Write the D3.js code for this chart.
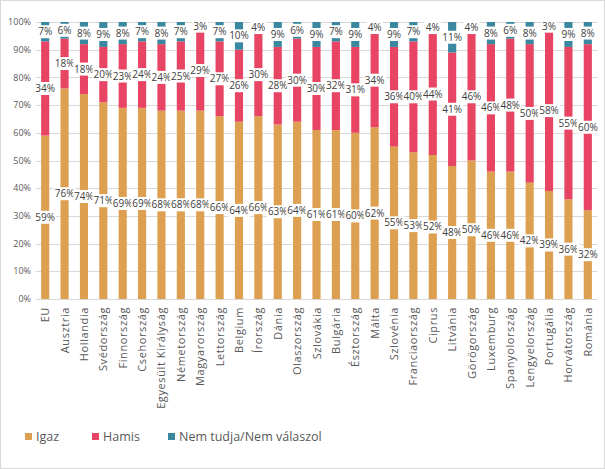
<!DOCTYPE html>
<html><head><meta charset="utf-8">
<script src="https://cdn.jsdelivr.net/npm/d3@7"></script>
<style>body{margin:0;background:#fff}svg{display:block}text{font-family:"Open Sans","Noto Sans",sans-serif}</style>
</head><body><svg id="c" width="605" height="469"></svg>
<script>
const categories=["EU","Ausztria","Hollandia","Svédország","Finnország","Csehország","Egyesült Királyság","Németország","Magyarország","Lettország","Belgium","Írország","Dánia","Olaszország","Szlovákia","Bulgária","Észtország","Málta","Szlovénia","Franciaország","Ciprus","Litvánia","Görögország","Luxemburg","Spanyolország","Lengyelország","Portugália","Horvátország","Románia"];
const igaz=[59,76,74,71,69,69,68,68,68,66,64,66,63,64,61,61,60,62,55,53,52,48,50,46,46,42,39,36,32];
const hamis=[34,18,18,20,23,24,24,25,29,27,26,30,28,30,30,32,31,34,36,40,44,41,46,46,48,50,58,55,60];
const nemTudja=[7,6,8,9,8,7,8,7,3,7,10,4,9,6,9,7,9,4,9,7,4,11,4,8,6,8,3,9,8];
const seriesNames=["Igaz","Hamis","Nem tudja/Nem válaszol"];
const colors=["#DDA050","#E84463","#3A88A0"];
const yTicks=[0,10,20,30,40,50,60,70,80,90,100];

const svg=d3.select("#c");
svg.append("rect").attr("x",0.5).attr("y",0.5).attr("width",604).attr("height",468).attr("fill","#fff").attr("stroke","#d9d9d9");
const x=d3.scaleBand().domain(categories).range([35.5,597.5]).paddingInner(0.58).paddingOuter(0.29);
const y=d3.scaleLinear().domain([0,100]).range([299,22]);

const g=svg.append("g");
g.selectAll("line.grid").data(yTicks).join("line").attr("x1",35.5).attr("x2",597.5)
 .attr("y1",d=>Math.round(y(d))+0.5).attr("y2",d=>Math.round(y(d))+0.5)
 .attr("stroke","#d9d9d9").attr("stroke-width",1);
g.selectAll("text.yt").data(yTicks).join("text").attr("x",31).attr("y",d=>y(d)).attr("dy","0.35em")
 .attr("text-anchor","end").attr("font-size",9).attr("fill","#595959").text(d=>d+"%");

const rows=categories.map((c,i)=>({c,v:[igaz[i],hamis[i],nemTudja[i]]}));
const stack=d3.stack().keys([0,1,2]).value((d,k)=>d.v[k]);
const st=stack(rows);
st.forEach((s,k)=>{
  g.selectAll(null).data(s).join("rect").attr("x",d=>x(d.data.c)).attr("width",x.bandwidth())
   .attr("y",d=>y(d[1])).attr("height",d=>y(d[0])-y(d[1])).attr("fill",colors[k]);
});
// labels
st.forEach((s,k)=>{
  s.forEach(d=>{
    const cx=x(d.data.c)+x.bandwidth()/2, cy=y((d[0]+d[1])/2);
    const lg=g.append("g");
    const t=lg.append("text").attr("x",cx).attr("y",cy).attr("dy","0.35em").attr("text-anchor","middle")
      .attr("font-size",10).attr("fill","#404040").text(d.data.v[k]+"%");
    const bb=t.node().getBBox();
    lg.insert("rect","text").attr("x",bb.x-1).attr("y",cy-6.5).attr("width",bb.width+2).attr("height",13).attr("fill","#fff");
  });
});
// x labels
g.selectAll("text.xl").data(categories).join("text")
 .attr("transform",d=>`translate(${x(d)+x.bandwidth()/2+4},307) rotate(-90)`)
 .attr("text-anchor","end").attr("font-size",11).attr("letter-spacing",0.6).attr("fill","#595959").text(d=>d);
// legend
const lx=[20,87,163];
seriesNames.forEach((n,i)=>{
  svg.append("rect").attr("x",lx[i]+5).attr("y",433).attr("width",7).attr("height",7).attr("fill",colors[i]);
  svg.append("text").attr("x",lx[i]+16).attr("y",437).attr("dy","0.35em").attr("font-size",12.5).attr("fill","#595959").text(n);
});
</script></body></html>
